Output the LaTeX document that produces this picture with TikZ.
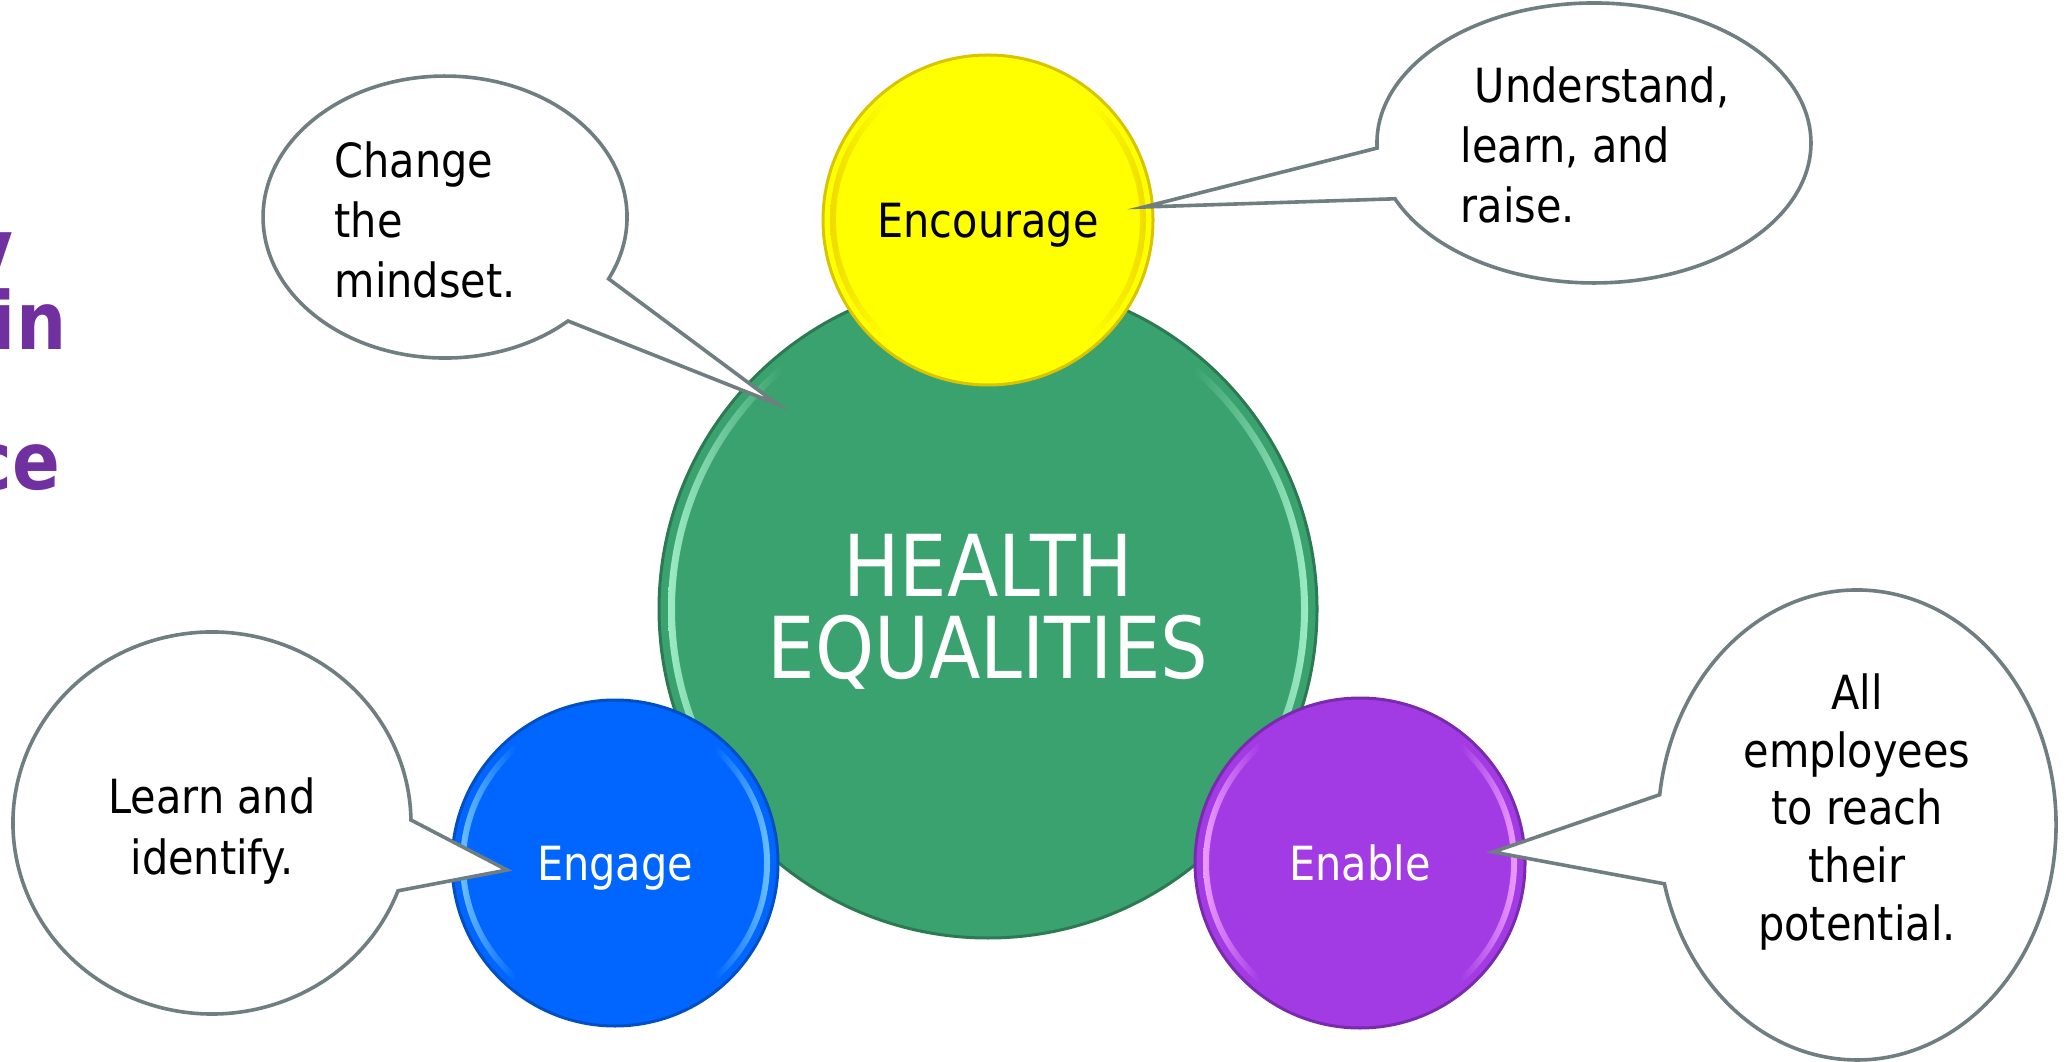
\documentclass[tikz,border=0pt]{standalone}
\usepackage{fontspec}
\setmainfont{DejaVu Sans}[FakeStretch=0.88]
\definecolor{gmain}{HTML}{3AA26E}
\definecolor{gedge}{HTML}{2C7A52}
\definecolor{glight}{HTML}{9CEBC4}
\definecolor{ymain}{HTML}{FFFF00}
\definecolor{yedge}{HTML}{D8C400}
\definecolor{ylight}{HTML}{EEDC00}
\definecolor{bmain}{HTML}{0066FF}
\definecolor{bedge}{HTML}{004FC4}
\definecolor{blight}{HTML}{6CC0FF}
\definecolor{pmain}{HTML}{A33BE4}
\definecolor{pedge}{HTML}{7A2AAE}
\definecolor{plight}{HTML}{EE9BFF}
\definecolor{calloutgray}{HTML}{6F7E80}
\definecolor{titlepurple}{HTML}{7030A0}
\pgfdeclarehorizontalshading{grim}{100bp}{color(0bp)=(glight); color(25bp)=(glight); color(34bp)=(gmain); color(66bp)=(gmain); color(75bp)=(glight); color(100bp)=(glight)}
\pgfdeclarehorizontalshading{yrim}{100bp}{color(0bp)=(ylight); color(25bp)=(ylight); color(34bp)=(ymain); color(66bp)=(ymain); color(75bp)=(ylight); color(100bp)=(ylight)}
\pgfdeclarehorizontalshading{brim}{100bp}{color(0bp)=(blight); color(25bp)=(blight); color(34bp)=(bmain); color(66bp)=(bmain); color(75bp)=(blight); color(100bp)=(blight)}
\pgfdeclarehorizontalshading{prim}{100bp}{color(0bp)=(plight); color(25bp)=(plight); color(34bp)=(pmain); color(66bp)=(pmain); color(75bp)=(plight); color(100bp)=(plight)}
\begin{document}
\begin{tikzpicture}[x=0.1mm,y=-0.1mm,
  bodyfont/.style={font=\fontsize{13.4pt}{17.1pt}\selectfont},
  titlefont/.style={font=\fontsize{24.3pt}{23.3pt}\selectfont},
  purpletext/.style={font=\fontsize{22.8pt}{27pt}\selectfont\bfseries,text=titlepurple,inner sep=0pt},
  ball/.style={circle,inner sep=0pt,line width=0.3mm,text depth=0pt},
  callout/.style={draw=calloutgray,fill=white,line width=0.36mm,line join=miter},
  ctext/.style={bodyfont,text=black,inner sep=0pt},
]
\useasboundingbox (0,0) rectangle (2066,1062);

% clipped title fragments at the left edge
\begin{scope}
  \clip (0,0) rectangle (2066,1062);
  \node[purpletext,anchor=base east] (t1) at (14,277) {y};
  \node[purpletext,anchor=base east] (t2) at (67,350) {in};
  \node[purpletext,anchor=base east] (t3) at (61,490) {ce};
\end{scope}

% central circle
\node[ball,minimum size=65.8mm,fill=gmain,draw=gedge] (hq) at (988,609) {};
\path[even odd rule,shading=grim] (hq.center) circle (320) (hq.center) circle (313);
\node[titlefont,text=white,align=center,inner sep=0pt] (hqt) at (988,612) {HEALTH\\EQUALITIES};

% Encourage
\node[ball,minimum size=33mm,fill=ymain,draw=yedge,bodyfont,text=black] (enc) at (988,220) {Encourage};
\path[even odd rule,shading=yrim] (enc.center) circle (158) (enc.center) circle (152);

% Engage
\node[ball,minimum size=32.6mm,fill=bmain,draw=bedge,bodyfont,text=white] (eng) at (615,863) {Engage};
\path[even odd rule,shading=brim] (eng.center) circle (155) (eng.center) circle (149);

% Enable
\node[ball,minimum size=33mm,fill=pmain,draw=pedge,bodyfont,text=white] (ena) at (1360,863) {Enable};
\path[even odd rule,shading=prim] (ena.center) circle (157) (ena.center) circle (151);

% callouts
\coordinate (tipA) at (777,404);
\draw[callout] (568.0,321.0) arc[start angle=47.5,end angle=386,x radius=182,y radius=141] -- (tipA) -- cycle;
\node[ctext,align=left,anchor=west] (c1) at (334,220) {Change\\the\\mindset.};

\coordinate (tipB) at (1144,207);
\draw[callout] (1377.1,148.1) arc[start angle=177.9,end angle=516.5,x radius=217,y radius=140] -- (tipB) -- cycle;
\node[ctext,align=left,anchor=west] (c2) at (1460,145) {\hspace*{0.3em}Understand,\\learn, and\\raise.};

\coordinate (tipC) at (507,870);
\draw[callout] (398.0,890.8) arc[start angle=20.8,end angle=359.1,x radius=199,y radius=191] -- (tipC) -- cycle;
\node[ctext,align=center] (c3) at (212,831) {Learn and\\identify.};

\coordinate (tipD) at (1493,852);
\draw[callout] (1659.7,794.7) arc[start angle=187.4,end angle=525.5,x radius=199,y radius=235] -- (tipD) -- cycle;
\node[ctext,align=center,font=\fontsize{13.4pt}{16.4pt}\selectfont] (c4) at (1857,812) {All\\employees\\to reach\\their\\potential.};
\end{tikzpicture}
\end{document}
